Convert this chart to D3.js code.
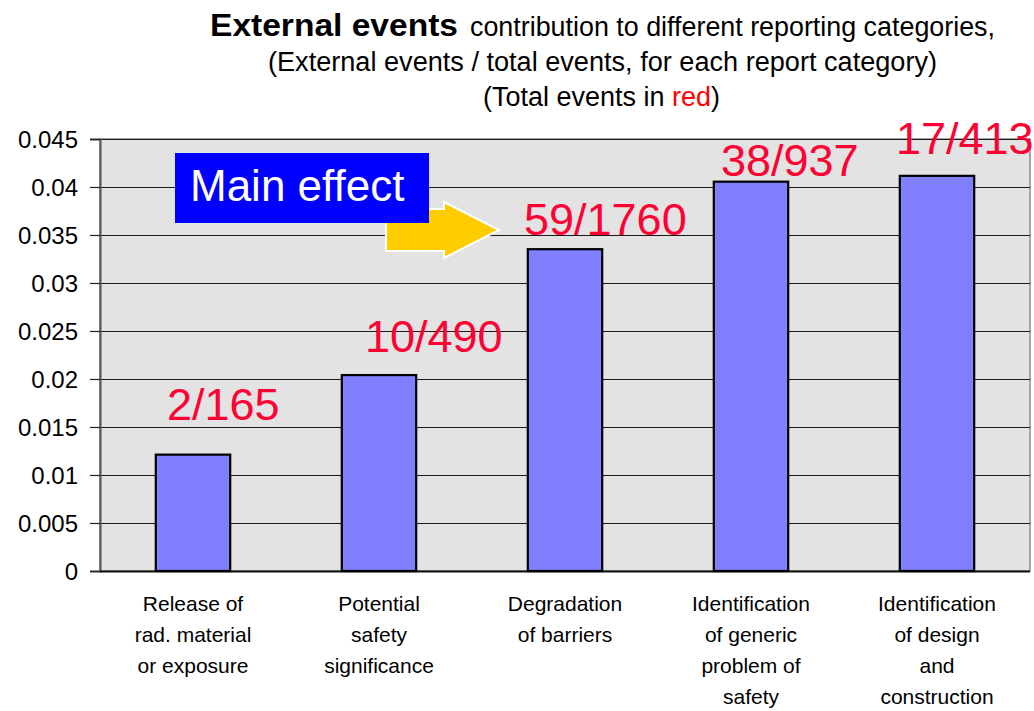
<!DOCTYPE html>
<html lang="en">
<head>
<meta charset="utf-8">
<script src="https://d3js.org/d3.v7.min.js"></script>
<style>
  body { margin: 0; background: #fff; }
  text { font-family: "Liberation Sans", Arial, sans-serif; }
</style>
</head>
<body>
<script>
// data
var categories = [
  ["Release of", "rad. material", "or exposure"],
  ["Potential", "safety", "significance"],
  ["Degradation", "of barriers"],
  ["Identification", "of generic", "problem of", "safety"],
  ["Identification", "of design", "and", "construction"]
];
var externalEvents = [2, 10, 59, 38, 17];
var totalEvents = [165, 490, 1760, 937, 413];
var yTicks = [0, 0.005, 0.01, 0.015, 0.02, 0.025, 0.03, 0.035, 0.04, 0.045];

// hand placement of the red labels (relative to bar centre / bar top)
var labelDx = [-26, -14, -41, -30, -41];
var labelDy = [-35, -23, -14, -6, -22];

var width = 1034, height = 711;
var plot = {left: 100, right: 1030, top: 139, bottom: 571};

var svg = d3.select("body").append("svg")
    .attr("width", width)
    .attr("height", height);

var x = d3.scaleBand()
    .domain(d3.range(categories.length))
    .range([plot.left, plot.right])
    .paddingInner(0.6)
    .paddingOuter(0.3);

var y = d3.scaleLinear()
    .domain([0, 0.045])
    .range([plot.bottom, plot.top]);

var ratio = externalEvents.map(function(d, i) { return d / totalEvents[i]; });

// plot background
svg.append("rect")
    .attr("x", plot.left)
    .attr("y", plot.top)
    .attr("width", plot.right - plot.left)
    .attr("height", plot.bottom - plot.top)
    .attr("fill", "#e3e3e3")
    .attr("stroke", "#8c8c8c")
    .attr("stroke-width", 1.5);

// gridlines
svg.append("g")
    .selectAll("line")
    .data(yTicks.slice(1))
    .enter().append("line")
    .attr("x1", plot.left)
    .attr("x2", plot.right)
    .attr("y1", function(d) { return Math.round(y(d)) + 0.5; })
    .attr("y2", function(d) { return Math.round(y(d)) + 0.5; })
    .attr("stroke", "#1a1a1a")
    .attr("stroke-width", 1.2);

// y axis
var yAxis = svg.append("g")
    .attr("transform", "translate(" + plot.left + ",0)")
    .call(d3.axisLeft(y).tickValues(yTicks).tickSize(10).tickPadding(12)
        .tickFormat(function(d) { return String(+d.toFixed(3)); }));
yAxis.select(".domain").attr("stroke", "#555").attr("stroke-width", 2);
yAxis.selectAll(".tick line").attr("stroke", "#222").attr("stroke-width", 1.2);
yAxis.selectAll(".tick text")
    .attr("font-family", "Liberation Sans, Arial, sans-serif")
    .attr("font-size", 24)
    .attr("fill", "#000")
    .attr("dy", "0.35em");

// bottom axis line
svg.append("line")
    .attr("x1", plot.left)
    .attr("x2", plot.right)
    .attr("y1", plot.bottom + 0.5)
    .attr("y2", plot.bottom + 0.5)
    .attr("stroke", "#111")
    .attr("stroke-width", 2);

// bars
svg.append("g")
    .selectAll("rect")
    .data(ratio)
    .enter().append("rect")
    .attr("x", function(d, i) { return x(i); })
    .attr("y", function(d) { return y(d); })
    .attr("width", x.bandwidth())
    .attr("height", function(d) { return y(0) - y(d); })
    .attr("fill", "#8080ff")
    .attr("stroke", "#000")
    .attr("stroke-width", 2.2);

// red count labels
svg.append("g")
    .selectAll("text")
    .data(ratio)
    .enter().append("text")
    .attr("x", function(d, i) { return x(i) + x.bandwidth() / 2 + labelDx[i]; })
    .attr("y", function(d, i) { return y(d) + labelDy[i]; })
    .attr("font-size", 45)
    .attr("fill", "#ff0033")
    .text(function(d, i) { return externalEvents[i] + "/" + totalEvents[i]; });

// category labels
var cat = svg.append("g")
    .selectAll("text")
    .data(categories)
    .enter().append("text")
    .attr("text-anchor", "middle")
    .attr("font-size", 21)
    .attr("fill", "#000");
cat.selectAll("tspan")
    .data(function(d, i) { return d.map(function(s) { return {s: s, i: i}; }); })
    .enter().append("tspan")
    .attr("x", function(d) { return x(d.i) + x.bandwidth() / 2; })
    .attr("y", function(d, j) { return 611 + j * 31; })
    .text(function(d) { return d.s; });

// "Main effect" arrow and box
svg.append("polygon")
    .attr("points", [[386, 209], [444, 209], [444, 202], [499, 230], [444, 258], [444, 251], [386, 251]].join(" "))
    .attr("fill", "#ffcc00")
    .attr("stroke", "#fff")
    .attr("stroke-width", 2);

svg.append("rect")
    .attr("x", 175)
    .attr("y", 153)
    .attr("width", 254)
    .attr("height", 70)
    .attr("fill", "#0000ff");

svg.append("text")
    .attr("x", 190)
    .attr("y", 201)
    .attr("font-size", 44)
    .attr("fill", "#fff")
    .text("Main effect");

// title
var t1 = svg.append("g");
t1.append("text")
    .attr("x", 210).attr("y", 36)
    .attr("font-size", 31)
    .attr("font-weight", "bold")
    .attr("textLength", 248)
    .attr("lengthAdjust", "spacingAndGlyphs")
    .text("External events");
t1.append("text")
    .attr("x", 470).attr("y", 36)
    .attr("font-size", 27)
    .attr("textLength", 525)
    .attr("lengthAdjust", "spacingAndGlyphs")
    .text("contribution to different reporting categories,");

svg.append("text")
    .attr("x", 268).attr("y", 71)
    .attr("font-size", 27)
    .attr("textLength", 669)
    .attr("lengthAdjust", "spacingAndGlyphs")
    .text("(External events / total events, for each report category)");

var t3 = svg.append("text")
    .attr("x", 483).attr("y", 106)
    .attr("font-size", 27)
    .attr("textLength", 237)
    .attr("lengthAdjust", "spacingAndGlyphs");
t3.append("tspan").text("(Total events in ");
t3.append("tspan").attr("fill", "#ff0000").text("red");
t3.append("tspan").text(")");
</script>
</body>
</html>
